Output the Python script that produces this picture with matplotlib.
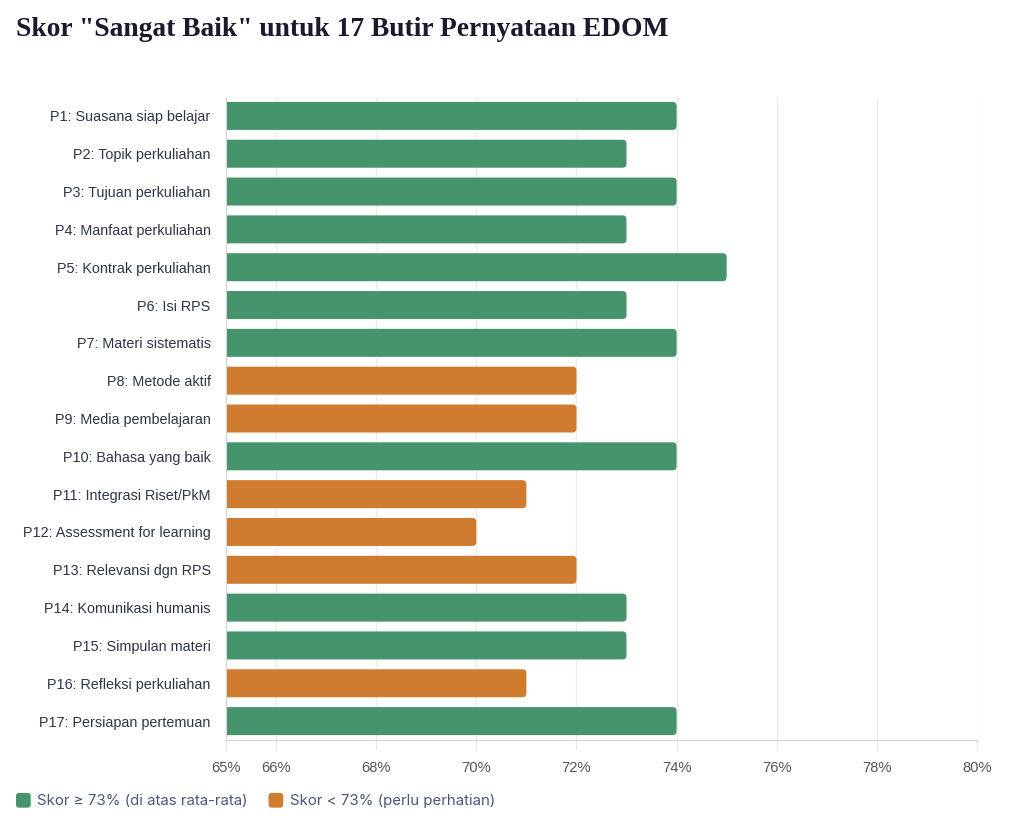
import matplotlib
matplotlib.use("Agg")
import matplotlib.pyplot as plt
from matplotlib.patches import FancyBboxPatch, Patch
from matplotlib.legend_handler import HandlerPatch

# data
labels = [
    "P1: Suasana siap belajar", "P2: Topik perkuliahan", "P3: Tujuan perkuliahan",
    "P4: Manfaat perkuliahan", "P5: Kontrak perkuliahan", "P6: Isi RPS",
    "P7: Materi sistematis", "P8: Metode aktif", "P9: Media pembelajaran",
    "P10: Bahasa yang baik", "P11: Integrasi Riset/PkM", "P12: Assessment for learning",
    "P13: Relevansi dgn RPS", "P14: Komunikasi humanis", "P15: Simpulan materi",
    "P16: Refleksi perkuliahan", "P17: Persiapan pertemuan",
]
scores = [74, 73, 74, 73, 75, 73, 74, 72, 72, 74, 71, 70, 72, 73, 73, 71, 74]
threshold = 73
tick_vals = [65, 66, 68, 70, 72, 74, 76, 78, 80]

green = "#46946c"
orange = "#cf7c30"


class RoundHandler(HandlerPatch):
    # rounded square legend keys
    def create_artists(self, legend, orig_handle, xdescent, ydescent,
                       width, height, fontsize, trans):
        s = min(width, height) * 1.1
        p = FancyBboxPatch((-xdescent, -ydescent + (height - s) / 2), s, s,
                           boxstyle=f"round,pad=0,rounding_size={s * 0.22}",
                           fc=orig_handle.get_facecolor(), ec="none", transform=trans)
        return [p]


fig = plt.figure(figsize=(10.24, 8.35), dpi=100)
ax = fig.add_axes([226 / 1024, 1 - 740 / 835, (977 - 226) / 1024, (740 - 97) / 835])

xmin, xmax = 65, 80
ax.set_xlim(xmin, xmax)
ax.set_ylim(len(scores) - 0.5, -0.5)

# pixels per unit, for rounded ends
px_x = (977 - 226) / (xmax - xmin)
px_y = (740 - 97) / len(scores)
r = 4 / px_x
bar_h = 0.74

for i, v in enumerate(scores):
    c = green if v >= threshold else orange
    p = FancyBboxPatch((xmin - 0.3, i - bar_h / 2), v - xmin + 0.3, bar_h,
                       boxstyle=f"round,pad=0,rounding_size={r}",
                       mutation_aspect=px_x / px_y, fc=c, ec="none", zorder=2)
    ax.add_patch(p)

ax.set_yticks(range(len(labels)))
ax.set_yticklabels(labels, fontsize=10.4, color="#2d3748", family="Liberation Sans")
ax.set_xticks(tick_vals)
ax.set_xticklabels([f"{t}%" for t in tick_vals], fontsize=10.6, color="#555555",
                   family="Liberation Sans")
ax.tick_params(axis="y", length=0, pad=11)
ax.tick_params(axis="x", length=7, color="#e6e6e6", pad=8)

ax.grid(axis="x", color="#ebebeb", linewidth=1, zorder=0)
ax.set_axisbelow(True)
for s in ["top", "right"]:
    ax.spines[s].set_visible(False)
ax.spines["left"].set_color("#d4d4d4")
ax.spines["bottom"].set_color("#d4d4d4")

fig.text(16 / 1024, 1 - 36 / 835, 'Skor "Sangat Baik" untuk 17 Butir Pernyataan EDOM',
         fontsize=19.8, fontweight="bold", family="Liberation Serif", color="#1a1a2e",
         va="baseline")

handles = [Patch(fc=green, ec="none", label="Skor \u2265 73% (di atas rata-rata)"),
           Patch(fc=orange, ec="none", label="Skor < 73% (perlu perhatian)")]
leg = fig.legend(handles=handles, loc="center left", bbox_to_anchor=(16 / 1024, 1 - 801 / 835),
                 ncol=2, frameon=False, prop={"family": "Inter", "size": 10.8},
                 borderaxespad=0, borderpad=0,
                 handlelength=1.0, handleheight=1.0, handletextpad=0.4, columnspacing=1.4,
                 handler_map={Patch: RoundHandler()})
for t in leg.get_texts():
    t.set_color("#4a5878")

fig.savefig("out.png", dpi=100)
